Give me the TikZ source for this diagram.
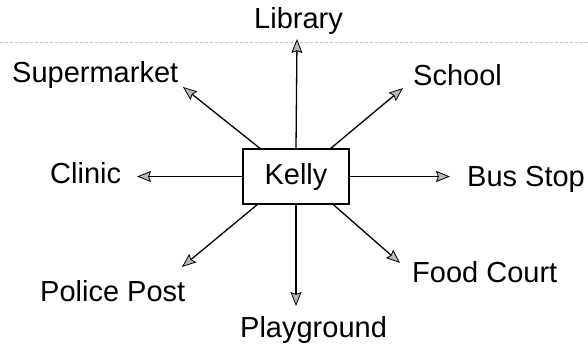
\documentclass[tikz,border=0pt]{standalone}
\usepackage{fontspec}
\setmainfont{Liberation Sans}
\usetikzlibrary{arrows.meta}
\begin{document}
\begin{tikzpicture}[x=1pt,y=1pt,
  lbl/.style={inner sep=0pt, anchor=base west, font=\fontsize{29}{34}\selectfont},
  link/.style={line width=1.3pt, -{Stealth[length=14pt,width=11pt,inset=2pt,fill=gray!55,line width=0.8pt]}},
  centerbox/.style={draw, line width=1.5pt, minimum width=106pt, minimum height=55pt,
                    inner sep=0pt, font=\fontsize{29}{34}\selectfont},
  scanline/.style={draw=gray!45, line width=0.5pt, densely dashed}]
\useasboundingbox (0,0) rectangle (588,-351);
% faint line across the top
\coordinate (lineL) at (0,-42);
\coordinate (lineR) at (588,-42);
\draw[scanline] (lineL) -- (lineR);
% centre box
\node[centerbox] (kelly) at (296,-176.5) {Kelly};
% labels
\node[lbl] (library) at (254,-28) {Library};
\node[lbl] (supermarket) at (12,-82) {Supermarket};
\node[lbl] (school) at (413,-85) {School};
\node[lbl] (clinic) at (50,-183) {Clinic};
\node[lbl] (busstop) at (467,-186) {Bus Stop};
\node[lbl] (police) at (40,-301) {Police Post};
\node[lbl] (food) at (412,-282) {Food Court};
\node[lbl] (playground) at (240,-337) {Playground};
% arrow tips
\coordinate (tLib) at (297,-39);
\coordinate (tSup) at (183,-87);
\coordinate (tSch) at (403,-88);
\coordinate (tCli) at (137,-176.5);
\coordinate (tBus) at (450,-176.5);
\coordinate (tPol) at (182,-267);
\coordinate (tFood) at (400,-263);
\coordinate (tPlay) at (296,-306);
% connectors
\draw[link] (kelly.north) -- (tLib);
\draw[link] (kelly.142) -- (tSup);
\draw[link] (kelly.39) -- (tSch);
\draw[link] (kelly.west) -- (tCli);
\draw[link] (kelly.east) -- (tBus);
\draw[link] (kelly.216) -- (tPol);
\draw[link] (kelly.323) -- (tFood);
\draw[link] (kelly.south) -- (tPlay);
\end{tikzpicture}
\end{document}
